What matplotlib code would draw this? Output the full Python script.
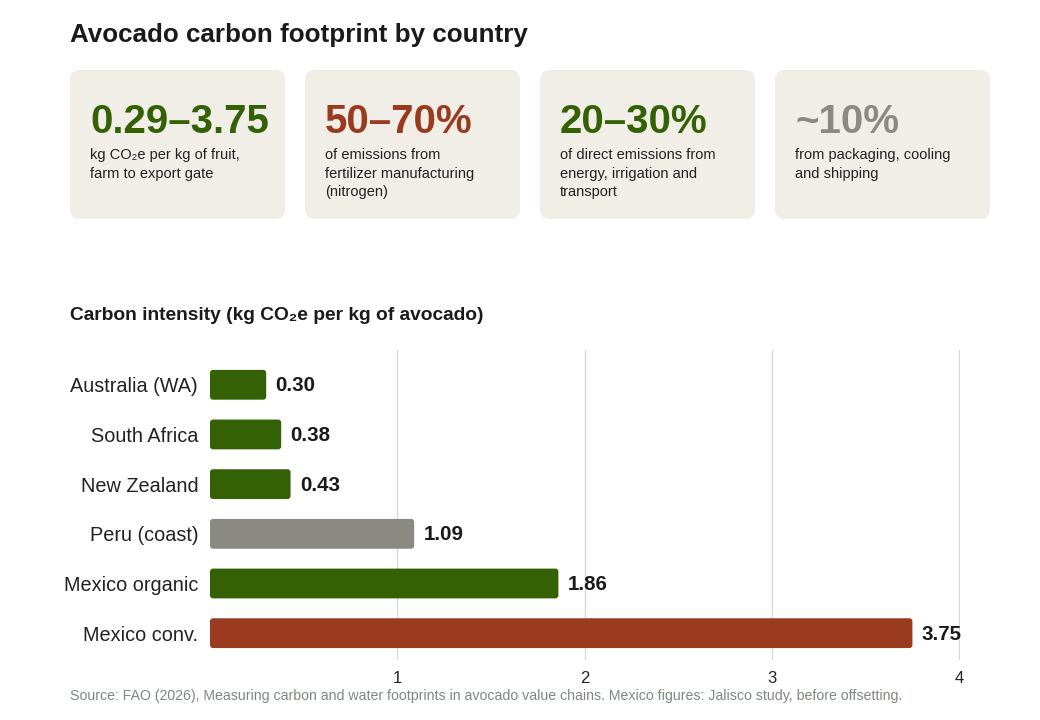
import matplotlib.pyplot as plt
from matplotlib.patches import FancyBboxPatch

plt.rcParams['font.family'] = ['Liberation Sans', 'DejaVu Sans']

# data
countries = ['Australia (WA)', 'South Africa', 'New Zealand', 'Peru (coast)', 'Mexico organic', 'Mexico conv.']
intensity = [0.30, 0.38, 0.43, 1.09, 1.86, 3.75]
bar_colors = ['#346104', '#346104', '#346104', '#8a8a82', '#346104', '#9a3a1e']

card_values = ['0.29–3.75', '50–70%', '20–30%', '~10%']
card_texts = ['kg CO₂e per kg of fruit,\nfarm to export gate',
              'of emissions from\nfertilizer manufacturing\n(nitrogen)',
              'of direct emissions from\nenergy, irrigation and\ntransport',
              'from packaging, cooling\nand shipping']
card_colors = ['#346104', '#9a3a1e', '#346104', '#8a8a82']

fig = plt.figure(figsize=(10.4, 7.2), dpi=100)

# overlay in pixel coordinates for the header part
ov = fig.add_axes([0, 0, 1, 1])
ov.set_xlim(0, 1040)
ov.set_ylim(720, 0)
ov.axis('off')

ov.text(70, 35, 'Avocado carbon footprint by country', fontsize=18.7, fontweight='bold',
        color='#1a1a1a', va='center', ha='left')

for i, (val, txt, col) in enumerate(zip(card_values, card_texts, card_colors)):
    x0 = 70 + i * 235
    box = FancyBboxPatch((x0 + 10, 80), 195, 129, boxstyle='round,pad=10',
                         facecolor='#f1eee8', edgecolor='none')
    ov.add_patch(box)
    ov.text(x0 + 20, 133, val, fontsize=29, fontweight='bold', color=col,
            va='baseline', ha='left')
    ov.text(x0 + 20, 148, txt, fontsize=10.5, color='#222222', va='top', ha='left',
            linespacing=1.42)

ov.text(70, 315, 'Carbon intensity (kg CO₂e per kg of avocado)', fontsize=13.8,
        fontweight='bold', color='#1a1a1a', va='center', ha='left')

ov.text(70, 696, 'Source: FAO (2026), Measuring carbon and water footprints in avocado value chains. '
        'Mexico figures: Jalisco study, before offsetting.', fontsize=10.2, color='#7b8a80',
        va='center', ha='left')

# bar chart
ax = fig.add_axes([210 / 1040, 60 / 720, 750 / 1040, 310 / 720])
y = list(range(len(countries)))
bars = ax.barh(y, intensity, height=0.6, color=bar_colors, zorder=3)
# swap the plain rectangles for slightly rounded ones
for b in bars:
    rb = FancyBboxPatch((b.get_x(), b.get_y()), b.get_width(), b.get_height(),
                        boxstyle='round,pad=0,rounding_size=0.016', mutation_aspect=3.77,
                        facecolor=b.get_facecolor(), edgecolor='none', zorder=3)
    b.set_visible(False)
    ax.add_patch(rb)
for yi, v in zip(y, intensity):
    ax.text(v + 0.05, yi + 0.02, f'{v:.2f}', va='center', ha='left', fontsize=14.8,
            fontweight='bold', color='#1a1a1a')
ax.set_xlim(0, 4.004)
ax.set_ylim(len(countries) - 0.5 + 0.04, -0.5 - 0.2)
ax.set_yticks(y)
ax.set_yticklabels(countries, fontsize=14.3, color='#222222')
ax.set_xticks([1, 2, 3, 4])
ax.set_xticklabels(['1', '2', '3', '4'], fontsize=12, color='#222222')
ax.grid(axis='x', color='#d9d9d9', linewidth=1, zorder=0)
ax.tick_params(axis='y', length=0, pad=8.5)
ax.tick_params(axis='x', length=0, pad=8)
for s in ax.spines.values():
    s.set_visible(False)

fig.savefig('out.png', dpi=100)
